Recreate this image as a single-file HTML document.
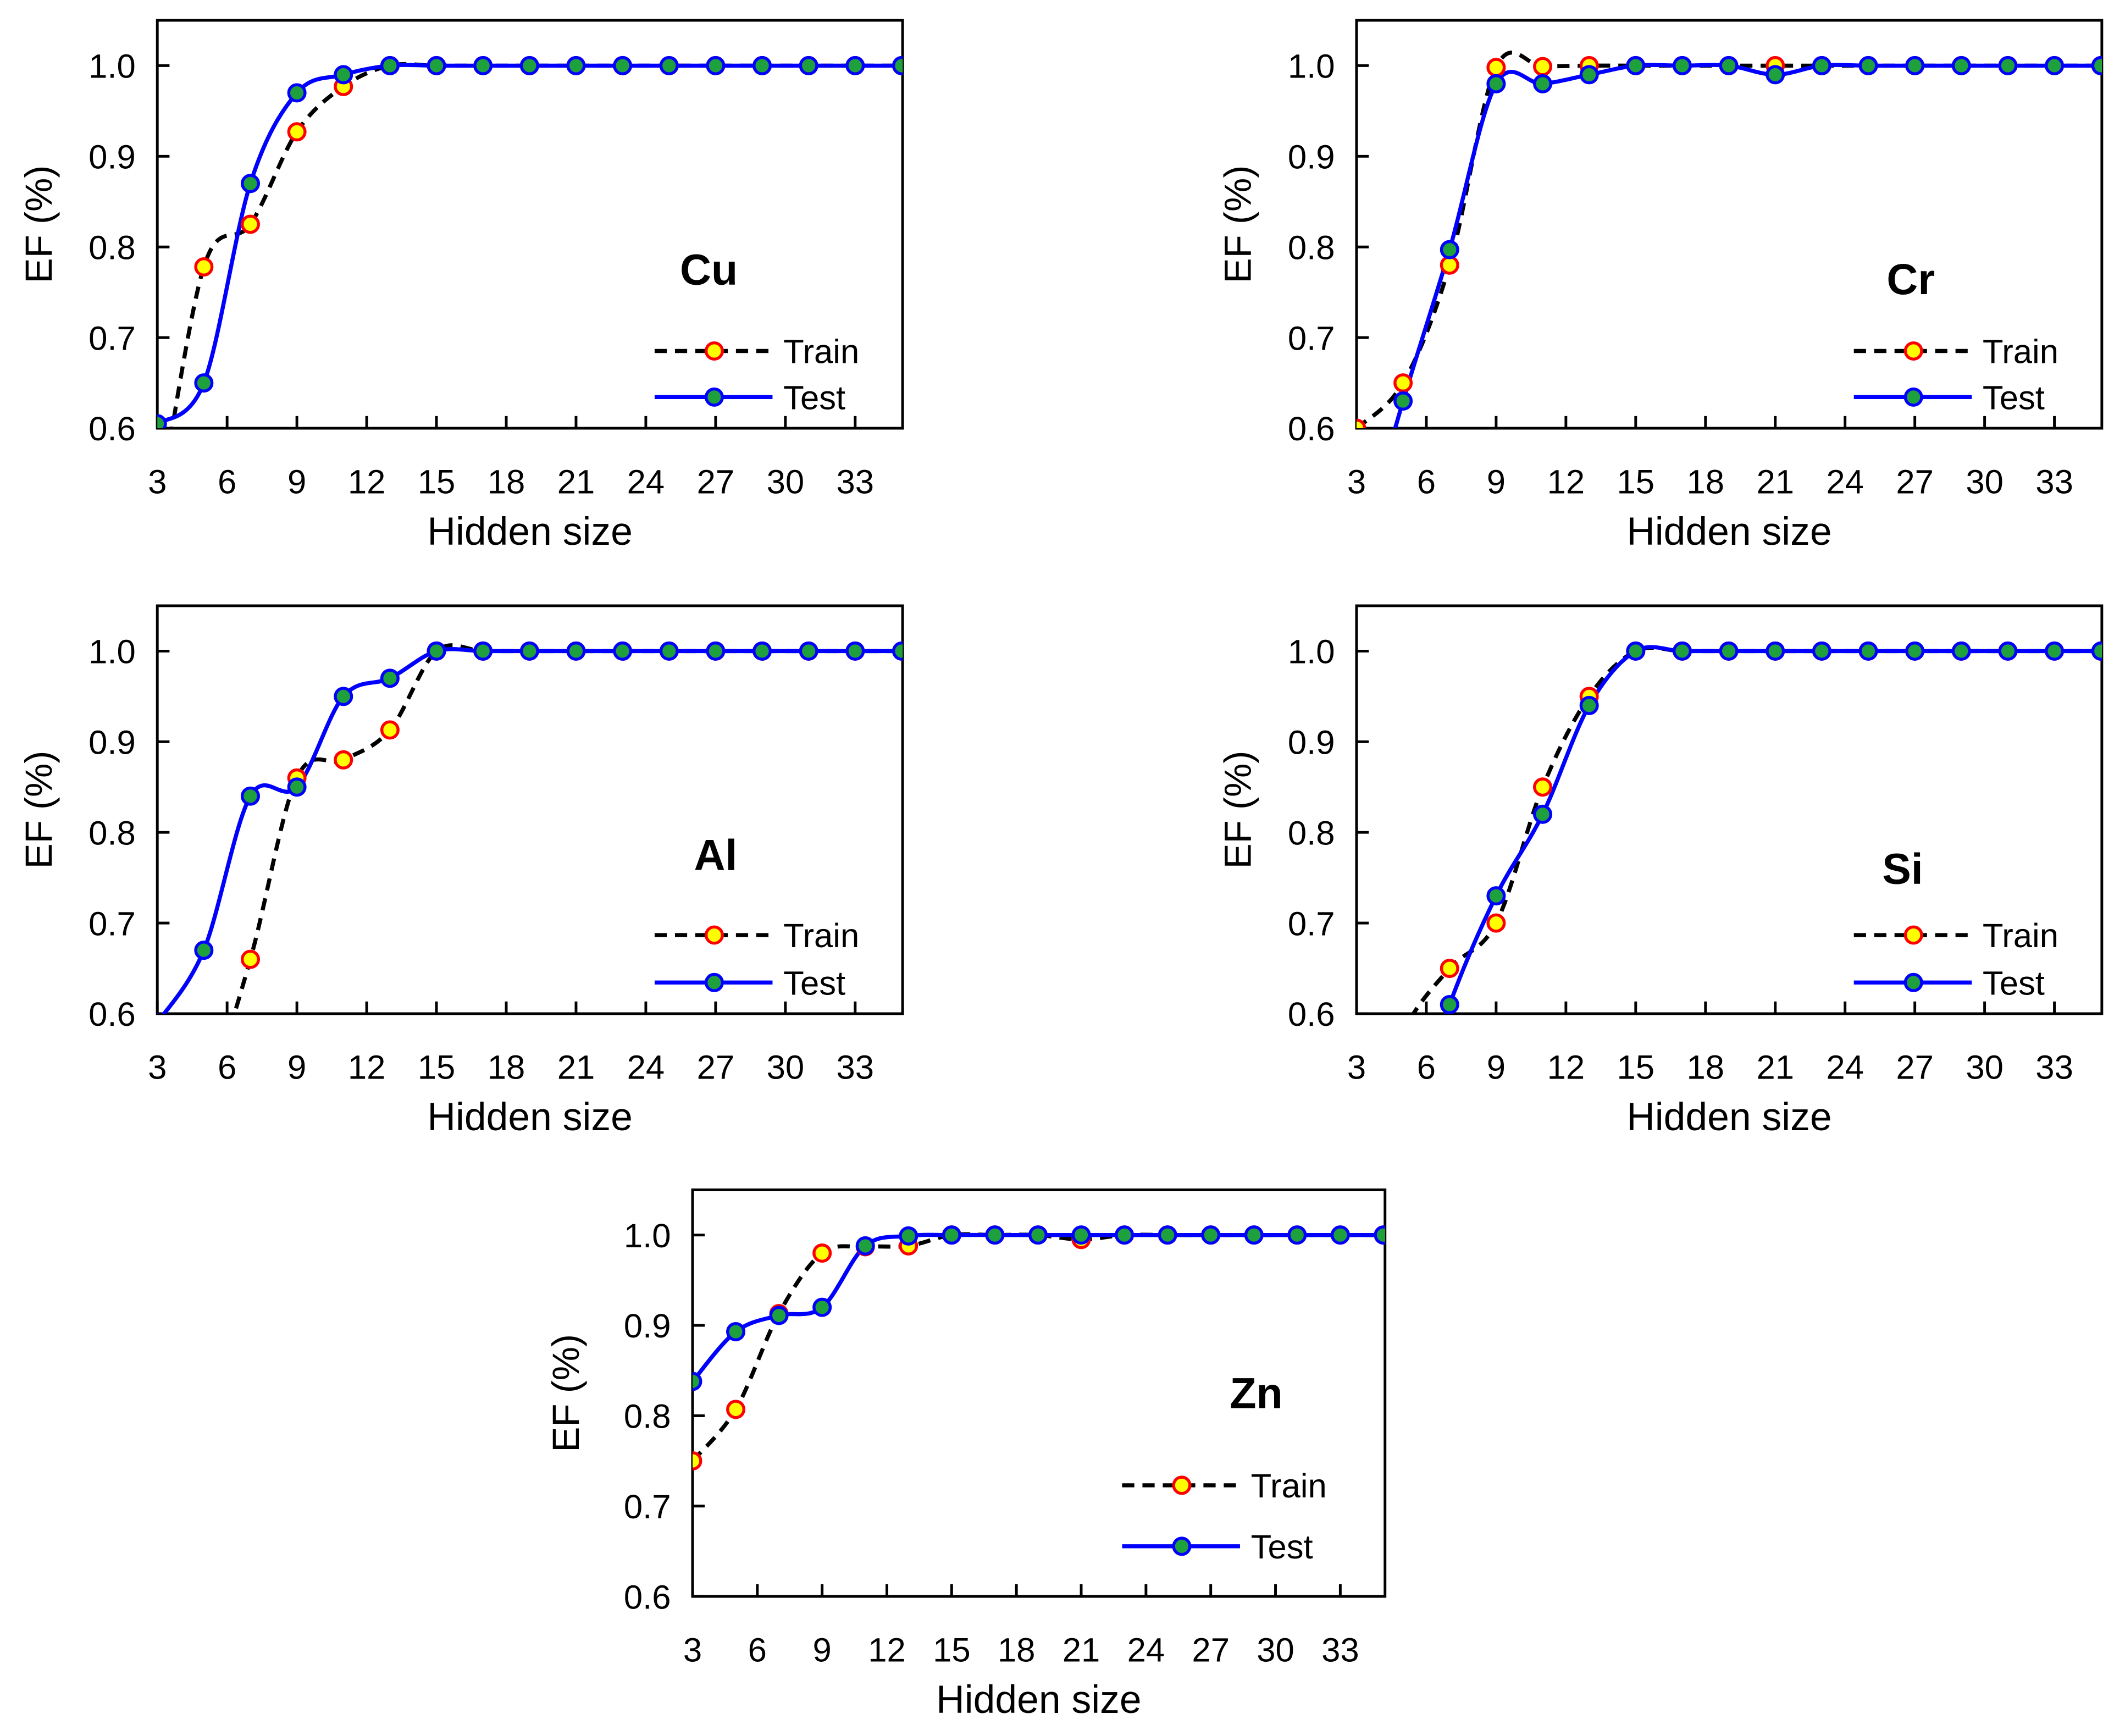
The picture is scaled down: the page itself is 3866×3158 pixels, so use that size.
<!DOCTYPE html>
<html><head><meta charset="utf-8"><style>
html,body{margin:0;padding:0;background:#fff}
svg{display:block}
text{font-family:"Liberation Sans",sans-serif;fill:#000}
</style></head><body>
<svg id="chart" width="3866" height="3158" viewBox="0 0 1568 1281" xmlns="http://www.w3.org/2000/svg"></svg>
<script>
const hiddenSizes = [3,5,7,9,11,13,15,17,19,21,23,25,27,29,31,33,35];
const xTicks = [3,6,9,12,15,18,21,24,27,30,33];
const yTicks = [0.6,0.7,0.8,0.9,1.0];
const yTickLabels = ["0.6","0.7","0.8","0.9","1.0"];
const cuTrain = [0.5,0.778,0.825,0.927,0.977,1,1,1,1,1,1,1,1,1,1,1,1];
const cuTest  = [0.605,0.65,0.87,0.97,0.99,1,1,1,1,1,1,1,1,1,1,1,1];
const crTrain = [0.6,0.65,0.78,0.998,0.999,1,1,1,1,1,1,1,1,1,1,1,1];
const crTest  = [0.45,0.63,0.797,0.98,0.98,0.99,1,1,1,0.99,1,1,1,1,1,1,1];
const alTrain = [0.4,0.5,0.66,0.86,0.88,0.913,1,1,1,1,1,1,1,1,1,1,1];
const alTest  = [0.59,0.67,0.84,0.85,0.95,0.97,1,1,1,1,1,1,1,1,1,1,1];
const siTrain = [0.45,0.58,0.65,0.70,0.85,0.95,1,1,1,1,1,1,1,1,1,1,1];
const siTest  = [0.3,0.45,0.61,0.73,0.82,0.94,1,1,1,1,1,1,1,1,1,1,1];
const znTrain = [0.75,0.807,0.913,0.98,0.987,0.988,1,1,1,0.995,1,1,1,1,1,1,1];
const znTest  = [0.838,0.893,0.911,0.92,0.988,0.999,1,1,1,1,1,1,1,1,1,1,1];

const svg = document.getElementById('chart');
const NS = 'http://www.w3.org/2000/svg';
function mk(tag, attrs, parent){const e=document.createElementNS(NS,tag);for(const k in attrs)e.setAttribute(k,attrs[k]);(parent||svg).appendChild(e);return e;}
function smooth(pts){
  let d='M'+pts[0][0]+','+pts[0][1];
  for(let i=0;i<pts.length-1;i++){
    const p0=pts[i-1]||pts[i],p1=pts[i],p2=pts[i+1],p3=pts[i+2]||p2;
    const t=1/6;
    d+=' C'+(p1[0]+(p2[0]-p0[0])*t)+','+(p1[1]+(p2[1]-p0[1])*t)+' '+(p2[0]-(p3[0]-p1[0])*t)+','+(p2[1]-(p3[1]-p1[1])*t)+' '+p2[0]+','+p2[1];
  }
  return d;
}
let clipId=0;
function panel(cfg){
  const g=mk('g',{});
  
  
  const x0=cfg.l, x1=cfg.r, yb=cfg.b, yt=cfg.t;
  const xs=v=>x0+(v-3)*(cfg.x33-x0)/30;
  const ys=v=>yb-(v-0.6)*(yb-yt)/0.45;
  const id='clip'+(clipId++);
  const cp=mk('clipPath',{id:id},g); mk('rect',{x:x0,y:yt,width:x1-x0,height:yb-yt},cp);
  const frame=mk('rect',{x:x0,y:yt,width:x1-x0,height:yb-yt,fill:'none',stroke:'#000','stroke-width':2},g);
  
  
  xTicks.forEach(v=>{
    mk('line',{x1:xs(v),x2:xs(v),y1:yb,y2:yb-9,stroke:'#000','stroke-width':2},g);
    const t=mk('text',{x:xs(v),y:yb+48,'font-size':25,'text-anchor':'middle'},g);t.textContent=v;
    
    
  });
  yTicks.forEach((v,i)=>{
    mk('line',{x1:x0,x2:x0+9,y1:ys(v),y2:ys(v),stroke:'#000','stroke-width':2},g);
    const t=mk('text',{x:x0-16,y:ys(v)+9,'font-size':25,'text-anchor':'end'},g);t.textContent=yTickLabels[i];
    
    
  });
  const xt=mk('text',{x:(x0+x1)/2,y:yb+86,'font-size':29,'text-anchor':'middle'},g);xt.textContent='Hidden size';
  
  
  const yc=(yt+yb)/2;
  const yt2=mk('text',{x:cfg.yx,y:yc,'font-size':28,'text-anchor':'middle',transform:'rotate(-90 '+cfg.yx+' '+yc+')'},g);yt2.textContent='EF (%)';
  
  
  const lbl=mk('text',{x:cfg.lx,y:cfg.ly,'font-size':32,'font-weight':'bold','text-anchor':'middle'},g);lbl.textContent=cfg.label;
  
  
  const cg=mk('g',{'clip-path':'url(#'+id+')'},g);
  const series=[{d:cfg.train,stroke:'#000',dash:'9,6',fill:'#ffff00',ms:'#ff0000',n:'train'},{d:cfg.test,stroke:'#0000ff',dash:'',fill:'#1ea03c',ms:'#0000ff',n:'test'}];
  series.forEach(s=>{
    const pts=hiddenSizes.map((h,i)=>[xs(h),ys(s.d[i])]);
    const p=mk('path',{d:smooth(pts),fill:'none',stroke:s.stroke,'stroke-width':3,'stroke-dasharray':s.dash},cg);
    
    
  });
  series.forEach(s=>{
    hiddenSizes.forEach((h,i)=>{
      const c=mk('circle',{cx:xs(h),cy:ys(s.d[i]),r:6,fill:s.fill,stroke:s.ms,'stroke-width':2.2},cg);
      
      
    });
  });
  [['Train',0],['Test',1]].forEach(([name,k])=>{
    const s=series[k];const y=cfg.legY[k];
    const le=mk('g',{},g);
    
    
    mk('line',{x1:cfg.legX,x2:cfg.legX+87,y1:y,y2:y,stroke:s.stroke,'stroke-width':3,'stroke-dasharray':s.dash},le);
    mk('circle',{cx:cfg.legX+44,cy:y,r:6,fill:s.fill,stroke:s.ms,'stroke-width':2.2},le);
    const t=mk('text',{x:cfg.legX+95,y:y+9,'font-size':25},le);t.textContent=name;
  });
}
panel({name:'cu',label:'Cu',l:116,r:666,t:15,b:316,x33:631,yx:38,lx:523,ly:210,legX:483,legY:[259,293],train:cuTrain,test:cuTest});
panel({name:'cr',label:'Cr',l:1001,r:1551,t:15,b:316,x33:1516,yx:923,lx:1410,ly:217,legX:1368,legY:[259,293],train:crTrain,test:crTest});
panel({name:'al',label:'Al',l:116,r:666,t:447,b:748,x33:631,yx:38,lx:528,ly:642,legX:483,legY:[690,725],train:alTrain,test:alTest});
panel({name:'si',label:'Si',l:1001,r:1551,t:447,b:748,x33:1516,yx:923,lx:1404,ly:652,legX:1368,legY:[690,725],train:siTrain,test:siTest});
panel({name:'zn',label:'Zn',l:511,r:1022,t:878,b:1178,x33:989,yx:427,lx:927,ly:1039,legX:828,legY:[1096,1141],train:znTrain,test:znTest});
</script>
</body></html>
